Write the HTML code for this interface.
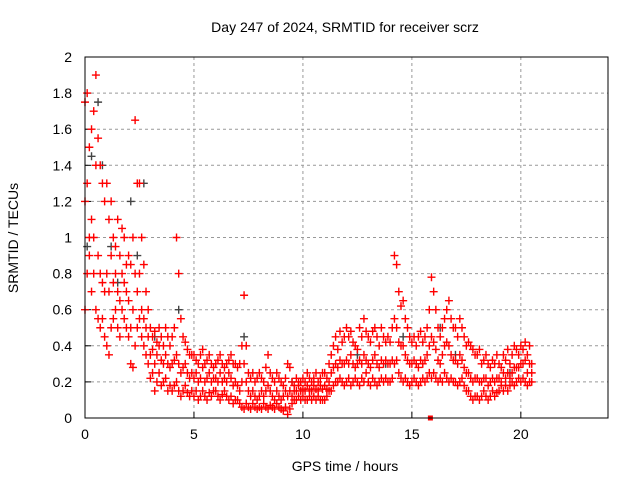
<!DOCTYPE html>
<html><head><meta charset="utf-8"><style>
html,body{margin:0;padding:0;background:#fff;}
svg{display:block;font-family:"Liberation Sans",sans-serif;}
</style></head><body>
<svg id="chart" width="640" height="480">
<text x="345" y="32" font-size="14" text-anchor="middle">Day 247 of 2024, SRMTID for receiver scrz</text>
<text x="345" y="471" font-size="14" text-anchor="middle">GPS time / hours</text>
<text transform="translate(18,238) rotate(-90)" font-size="14" text-anchor="middle">SRMTID / TECUs</text>
<g id="grid"></g><g id="ticks"></g><g id="marks"></g>
<rect x="85" y="57" width="523" height="361" fill="none" stroke="#000" stroke-width="1"/>
</svg>
<script>
const xTicks=[0,5,10,15,20];
const yTicks=[0,0.2,0.4,0.6,0.8,1,1.2,1.4,1.6,1.8,2];
const yTickLabels=["0","0.2","0.4","0.6","0.8","1","1.2","1.4","1.6","1.8","2"];
const tStart=0, tStep=0.1;
const hiVals=[1.75,1.8,1.5,1.6,1.7,1.9,1.55,1.4,1.3,1.2,
1.3,1.1,1.2,1.0,0.95,1.1,0.9,1.05,1.0,0.85,
0.9,0.85,1.0,1.65,1.3,1.3,1.0,0.85,0.7,0.6,
0.5,0.45,0.48,0.42,0.5,0.45,0.4,0.5,0.45,0.4,
0.45,0.5,1.0,0.8,0.55,0.45,0.42,0.38,0.35,0.35,
0.35,0.32,0.3,0.35,0.38,0.3,0.32,0.35,0.3,0.28,
0.3,0.32,0.35,0.3,0.28,0.3,0.32,0.35,0.3,0.3,
0.28,0.3,0.4,0.68,0.4,0.25,0.22,0.25,0.2,0.22,
0.25,0.22,0.2,0.28,0.35,0.25,0.22,0.2,0.25,0.22,
0.2,0.18,0.22,0.3,0.28,0.2,0.18,0.22,0.2,0.2,
0.22,0.2,0.25,0.22,0.2,0.22,0.25,0.2,0.22,0.25,
0.25,0.22,0.3,0.35,0.4,0.45,0.38,0.48,0.42,0.45,
0.5,0.45,0.48,0.42,0.4,0.38,0.5,0.45,0.55,0.48,
0.45,0.42,0.48,0.5,0.45,0.4,0.5,0.45,0.42,0.45,
0.42,0.5,0.9,0.85,0.7,0.62,0.65,0.55,0.5,0.45,
0.42,0.45,0.4,0.45,0.48,0.42,0.45,0.5,0.6,0.78,
0.7,0.6,0.5,0.45,0.5,0.55,0.6,0.65,0.55,0.5,
0.5,0.45,0.55,0.5,0.45,0.4,0.42,0.4,0.38,0.35,
0.35,0.38,0.3,0.32,0.35,0.3,0.28,0.32,0.3,0.35,
0.3,0.28,0.35,0.32,0.38,0.3,0.35,0.4,0.38,0.35,
0.4,0.38,0.42,0.35,0.4,0.3];
const midVals=[1.2,1.3,1.0,1.1,1.0,1.4,0.9,0.8,0.75,0.7,
0.8,0.7,0.9,0.75,0.8,0.7,0.65,0.8,0.75,0.7,
0.65,0.5,0.6,0.8,0.7,0.8,0.6,0.55,0.5,0.45,
0.35,0.38,0.3,0.35,0.4,0.32,0.3,0.35,0.3,0.28,
0.3,0.32,0.35,0.3,0.25,0.28,0.3,0.25,0.22,0.25,
0.22,0.25,0.2,0.22,0.28,0.2,0.22,0.25,0.2,0.22,
0.22,0.2,0.25,0.2,0.22,0.2,0.25,0.22,0.18,0.2,
0.18,0.15,0.2,0.3,0.2,0.15,0.12,0.15,0.12,0.1,
0.12,0.15,0.12,0.15,0.18,0.15,0.12,0.1,0.15,0.12,
0.1,0.12,0.15,0.12,0.15,0.12,0.15,0.15,0.18,0.15,
0.16,0.15,0.18,0.16,0.15,0.18,0.16,0.15,0.18,0.16,
0.18,0.16,0.2,0.25,0.28,0.3,0.28,0.32,0.3,0.3,
0.32,0.3,0.35,0.3,0.28,0.3,0.32,0.3,0.35,0.32,
0.3,0.28,0.32,0.35,0.3,0.28,0.32,0.3,0.32,0.3,
0.3,0.32,0.55,0.5,0.42,0.4,0.4,0.35,0.32,0.3,
0.3,0.32,0.3,0.28,0.32,0.3,0.32,0.35,0.4,0.45,
0.42,0.38,0.32,0.3,0.35,0.4,0.42,0.4,0.35,0.32,
0.32,0.3,0.35,0.32,0.28,0.25,0.25,0.22,0.2,0.22,
0.22,0.2,0.2,0.22,0.22,0.18,0.2,0.22,0.2,0.22,
0.22,0.2,0.25,0.22,0.25,0.22,0.25,0.28,0.28,0.28,
0.3,0.3,0.32,0.25,0.3,0.25];
const loVals=[0.6,0.8,0.9,0.7,0.8,0.6,0.55,0.5,0.55,0.45,
0.4,0.35,0.5,0.55,0.6,0.5,0.45,0.6,0.55,0.5,
0.45,0.3,0.28,0.4,0.5,0.55,0.45,0.4,0.35,0.3,
0.22,0.25,0.15,0.2,0.25,0.18,0.2,0.22,0.15,0.18,
0.15,0.18,0.2,0.15,0.12,0.15,0.18,0.14,0.12,0.15,
0.12,0.15,0.1,0.12,0.15,0.12,0.1,0.14,0.12,0.15,
0.15,0.12,0.1,0.13,0.15,0.12,0.1,0.12,0.08,0.1,
0.1,0.08,0.06,0.05,0.08,0.06,0.05,0.08,0.06,0.05,
0.06,0.05,0.08,0.06,0.05,0.07,0.06,0.05,0.08,0.06,
0.05,0.04,0.06,0.02,0.05,0.08,0.1,0.1,0.12,0.1,
0.12,0.1,0.1,0.12,0.1,0.12,0.1,0.12,0.1,0.1,
0.1,0.12,0.15,0.15,0.18,0.2,0.2,0.22,0.2,0.18,
0.2,0.22,0.18,0.2,0.22,0.2,0.18,0.22,0.2,0.25,
0.2,0.18,0.22,0.2,0.18,0.2,0.22,0.2,0.22,0.2,
0.2,0.22,0.3,0.32,0.25,0.22,0.2,0.22,0.2,0.18,
0.2,0.22,0.2,0.18,0.2,0.22,0.2,0.22,0.25,0.22,
0.25,0.22,0.2,0.22,0.2,0.25,0.22,0.2,0.22,0.2,
0.2,0.18,0.2,0.22,0.18,0.15,0.15,0.12,0.1,0.12,
0.12,0.1,0.12,0.15,0.12,0.1,0.12,0.15,0.12,0.14,
0.15,0.18,0.15,0.18,0.15,0.18,0.2,0.18,0.2,0.22,
0.2,0.22,0.2,0.18,0.2,0.2];
const grayT=[0.1,0.3,0.6,0.8,1.2,1.5,2.1,2.4,2.7,3.2,4.3,7.3,9.5,12.5,13.8,14.6,15.2,16.3,17.0,19.5];
const grayV=[0.95,1.45,1.75,1.4,0.95,0.75,1.2,0.9,1.3,0.45,0.6,0.45,0.2,0.35,0.3,0.45,0.3,0.5,0.35,0.25];
const zeroT=[15.85], zeroV=[0];

const X0=85,X1=608,Y0=418,Y1=57;
const xs=v=>X0+v/24*(X1-X0);
const ys=v=>Y0-v/2*(Y0-Y1);
const NS="http://www.w3.org/2000/svg";
const grid=document.getElementById('grid'),ticks=document.getElementById('ticks'),marks=document.getElementById('marks');
function mk(tag,attrs,parent){const e=document.createElementNS(NS,tag);for(const k in attrs)e.setAttribute(k,attrs[k]);parent.appendChild(e);return e;}
xTicks.forEach(t=>{
  const x=xs(t);
  if(t>0){const g=mk('line',{x1:x,x2:x,y1:Y1,y2:Y0,stroke:'#999','stroke-dasharray':'3,3'},grid);
  
  }
  const tk=mk('line',{x1:x,x2:x,y1:Y0,y2:Y0-6,stroke:'#000'},ticks);
  
  
  const lb=mk('text',{x:x,y:Y0+21,'font-size':14,'text-anchor':'middle'},ticks);lb.textContent=t;
  
  
});
yTicks.forEach((t,i)=>{
  const y=ys(t);
  if(t>0&&t<2){const g=mk('line',{x1:X0,x2:X1,y1:y,y2:y,stroke:'#999','stroke-dasharray':'3,3'},grid);
  
  }
  const tk=mk('line',{x1:X0,x2:X0+6,y1:y,y2:y,stroke:'#000'},ticks);
  
  
  const lb=mk('text',{x:X0-13,y:y+5,'font-size':14,'text-anchor':'end'},ticks);lb.textContent=yTickLabels[i];
  
  
});
function plus(t,v,color){
  const x=xs(t),y=ys(v);
  const p=mk('path',{d:`M${x-4},${y}h8M${x},${y-4}v8`,stroke:color,'stroke-width':1.4,fill:'none'},marks);
  return p;
}
grayT.forEach((t,i)=>{const p=plus(t,grayV[i],'#444');
  
  });
[hiVals,midVals,loVals].forEach(arr=>arr.forEach((v,i)=>{
  const t=tStart+i*tStep;
  const p=plus(t,v,'#f00');
  
  
}));
zeroT.forEach((t,i)=>{const r=mk('rect',{x:xs(t)-2.5,y:ys(zeroV[i])-2.5,width:5,height:5,fill:'#f00'},marks);
  
  });
</script>
</body></html>
